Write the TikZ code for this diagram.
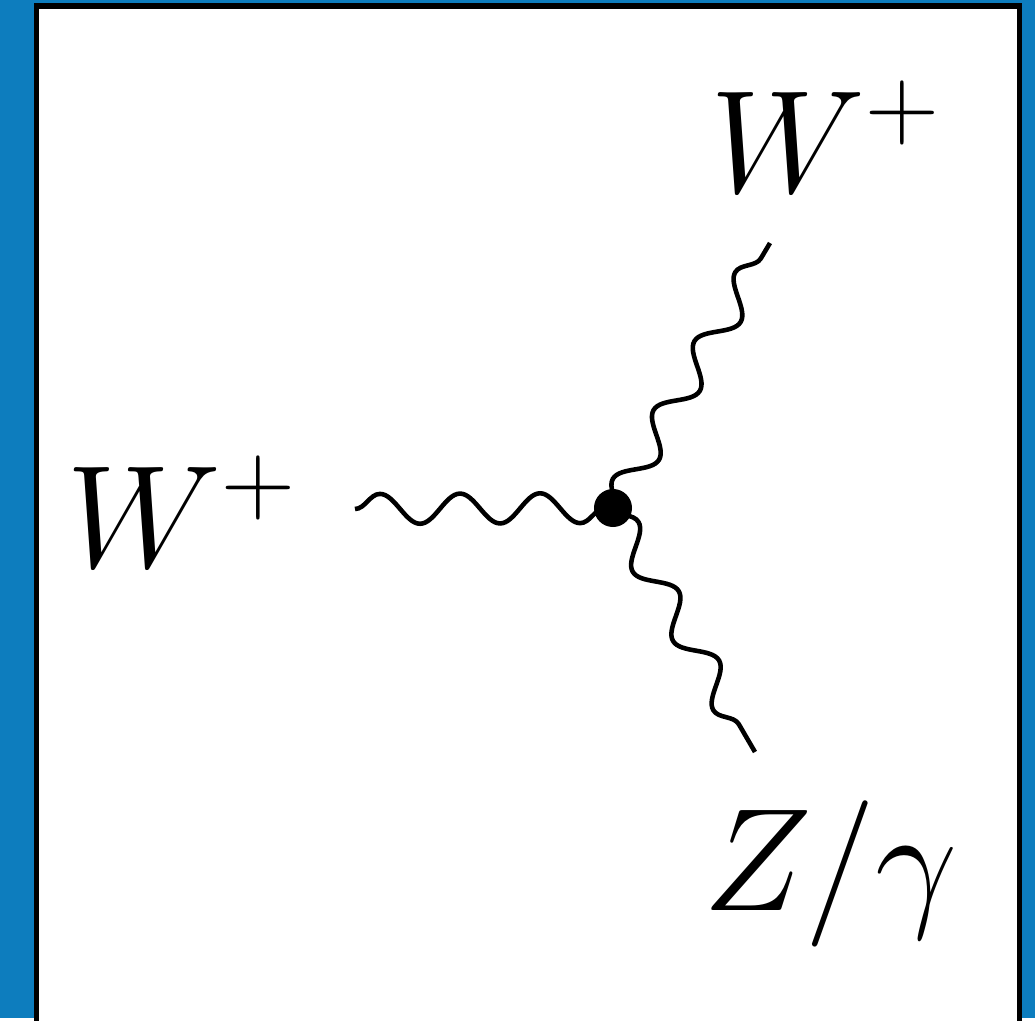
\RequirePackage{fix-cm}
\documentclass[tikz,border=0pt]{standalone}
\usetikzlibrary{decorations.pathmorphing}
\definecolor{slideblue}{RGB}{13,125,190}
\tikzset{
  photon/.style={decorate, decoration={snake, segment length=0.8cm, amplitude=0.15cm}, line width=1.3pt},
  vertexdot/.style={circle, fill=black, inner sep=0pt, minimum size=0.38cm},
  particle/.style={anchor=base west, inner sep=0pt, font=\fontsize{41.6}{50}\selectfont}
}
\begin{document}
\begin{tikzpicture}[x=0.01cm, y=-0.01cm]
	% slide background + frame
	\fill[slideblue] (0,0) rectangle (1035,1018);
	\fill[white] (36.5,6) rectangle (1019.5,1018);
	\draw[line width=0.055cm, line cap=rect] (36.5,1018) -- (36.5,6) -- (1019.5,6) -- (1019.5,1018);
	\useasboundingbox (0,0) rectangle (1035,1018);
	% vertex and legs
	\coordinate (v) at (613,508);
	\coordinate (win) at (355,509);
	\coordinate (wout) at (770,243);
	\coordinate (zout) at (755,752);
	\draw[photon] (win) -- (v);
	\draw[photon] (v) -- (wout);
	\draw[photon] (v) -- (zout);
	\node[vertexdot] (vdot) at (v) {};
	% labels
	\node[particle] (lwin) at (66,567) {$W^+$};
	\node[particle] (lwout) at (710,192) {$W^+$};
	\node[particle] (lzout) at (703,910) {$Z/\gamma$};
\end{tikzpicture}
\end{document}
